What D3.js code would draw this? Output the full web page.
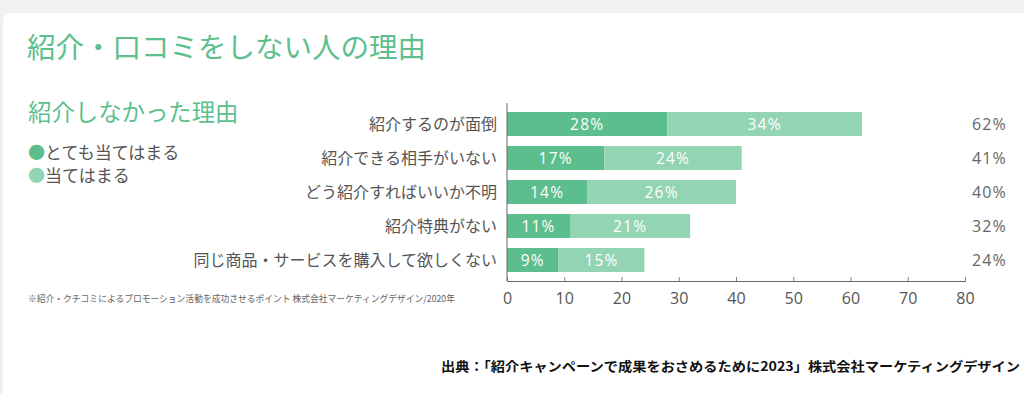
<!DOCTYPE html>
<html>
<head>
<meta charset="utf-8">
<script src="https://cdn.jsdelivr.net/npm/d3@7"></script>
<style>
  html, body { margin: 0; padding: 0; background: #f1f1f1; }
  svg { display: block; }
</style>
</head>
<body>
<script>
const categories = [
  "紹介するのが面倒",
  "紹介できる相手がいない",
  "どう紹介すればいいか不明",
  "紹介特典がない",
  "同じ商品・サービスを購入して欲しくない"
];
const strongValues = [28, 17, 14, 11, 9];   // とても当てはまる
const weakValues   = [34, 24, 26, 21, 15];  // 当てはまる
const totalValues  = [62, 41, 40, 32, 24];
const xTicks = [0, 10, 20, 30, 40, 50, 60, 70, 80];
const seriesNames = ["とても当てはまる", "当てはまる"];

const W = 1024, H = 395;
const cDark = "#5cbe8c", cLight = "#93d4b4", cTitle = "#5dbf8d";
const jp = "'Noto Sans CJK JP', 'Noto Sans', sans-serif";
const num = "'Open Sans', 'Noto Sans', sans-serif";

const svg = d3.select("body").append("svg").attr("width", W).attr("height", H);

svg.append("rect").attr("x", 0).attr("y", 0).attr("width", W).attr("height", H).attr("fill", "#f1f1f1");
svg.append("rect").attr("x", 3).attr("y", 13).attr("width", W + 20).attr("height", H + 20)
  .attr("rx", 8).attr("fill", "#ffffff");

svg.append("text").attr("x", 27).attr("y", 58).text("紹介・口コミをしない人の理由")
  .attr("font-family", jp).attr("font-size", 28.5).attr("fill", cTitle).attr("font-weight", 400);

svg.append("text").attr("x", 28).attr("y", 121).text("紹介しなかった理由")
  .attr("font-family", jp).attr("font-size", 23.4).attr("fill", cTitle).attr("font-weight", 400);

// legend
const leg = svg.append("g");
[[cDark, 159], [cLight, 182]].forEach((d, i) => {
  const t = leg.append("text").attr("x", 28).attr("y", d[1])
    .attr("font-family", jp).attr("font-size", 17).attr("fill", "#555");
  t.append("tspan").attr("fill", d[0]).text("●");
  t.append("tspan").text(seriesNames[i]);
});

svg.append("text").attr("x", 28).attr("y", 302)
  .text("※紹介・クチコミによるプロモーション活動を成功させるポイント 株式会社マーケティングデザイン/2020年")
  .attr("font-family", jp).attr("font-size", 9.5).attr("fill", "#666")
  .attr("textLength", 427).attr("lengthAdjust", "spacingAndGlyphs");

svg.append("text").attr("x", 441).attr("y", 371)
  .text("出典：「紹介キャンペーンで成果をおさめるために2023」株式会社マーケティングデザイン")
  .attr("font-family", jp).attr("font-size", 13).attr("font-weight", 700).attr("fill", "#111")
  .attr("textLength", 579).attr("lengthAdjust", "spacingAndGlyphs");

// scales
const x = d3.scaleLinear().domain([0, 80]).range([507, 965]);
const y = d3.scaleBand().domain(categories).range([107, 277]).paddingInner(10 / 34).paddingOuter(5 / 34);
const axisY = 281;

const rows = categories.map((c, i) => ({ c, s: strongValues[i], w: weakValues[i], t: totalValues[i] }));

const g = svg.append("g");
g.selectAll("rect.s").data(rows).join("rect").attr("class", "s")
  .attr("x", x(0)).attr("y", d => y(d.c)).attr("width", d => x(d.s) - x(0)).attr("height", y.bandwidth())
  .attr("fill", cDark);
g.selectAll("rect.w").data(rows).join("rect").attr("class", "w")
  .attr("x", d => x(d.s)).attr("y", d => y(d.c)).attr("width", d => x(d.s + d.w) - x(d.s)).attr("height", y.bandwidth())
  .attr("fill", cLight);

g.selectAll("text.sl").data(rows).join("text").attr("class", "sl")
  .attr("x", d => (x(0) + x(d.s)) / 2).attr("y", d => y(d.c) + y.bandwidth() / 2)
  .attr("dy", "0.36em").attr("text-anchor", "middle").text(d => d.s + "%")
  .attr("font-family", num).attr("font-size", 15.5).attr("fill", "#fff").attr("letter-spacing", 1.2);
g.selectAll("text.wl").data(rows).join("text").attr("class", "wl")
  .attr("x", d => (x(d.s) + x(d.s + d.w)) / 2).attr("y", d => y(d.c) + y.bandwidth() / 2)
  .attr("dy", "0.36em").attr("text-anchor", "middle").text(d => d.w + "%")
  .attr("font-family", num).attr("font-size", 15.5).attr("fill", "#fff").attr("letter-spacing", 1.2);
g.selectAll("text.tl").data(rows).join("text").attr("class", "tl")
  .attr("x", 1007).attr("y", d => y(d.c) + y.bandwidth() / 2)
  .attr("dy", "0.36em").attr("text-anchor", "end").text(d => d.t + "%")
  .attr("font-family", num).attr("font-size", 16).attr("fill", "#666").attr("letter-spacing", 1.2);

// category labels
g.selectAll("text.cat").data(rows).join("text").attr("class", "cat")
  .attr("x", 497).attr("y", d => y(d.c) + y.bandwidth() / 2)
  .attr("dy", "0.36em").attr("text-anchor", "end").text(d => d.c)
  .attr("font-family", jp).attr("font-size", 16).attr("fill", "#555");

// axes
const xAxis = svg.append("g").attr("transform", `translate(0,${axisY})`)
  .call(d3.axisBottom(x).tickValues(xTicks).tickSizeInner(-4).tickSizeOuter(-4).tickPadding(12));
xAxis.select(".domain").attr("stroke", "#666");
xAxis.selectAll(".tick line").attr("stroke", "#888");
xAxis.selectAll(".tick text").attr("font-family", num).attr("font-size", 16).attr("fill", "#555");

svg.append("line").attr("x1", x(0)).attr("x2", x(0)).attr("y1", 103).attr("y2", axisY)
  .attr("stroke", "#666");
</script>
</body>
</html>
